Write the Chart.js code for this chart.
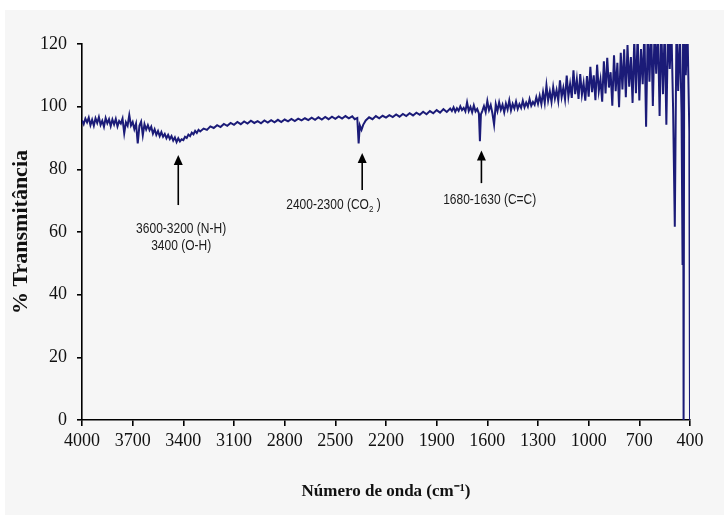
<!DOCTYPE html>
<html>
<head>
  <meta charset="utf-8">
  <title>Espectro FTIR</title>
  <script src="https://cdn.jsdelivr.net/npm/chart.js"></script>
  <style>
    body {
      margin: 0;
      background: #fff;
    }
    canvas {
      display: block;
    }
  </style>
</head>
<body>
  <canvas id="ftirChart" width="724" height="515"></canvas>

  <script>
    // wavenumber (cm-1), one row per 10 points
    var wavenumbers = [
      4000, 3990, 3980, 3970, 3960, 3950, 3940, 3930, 3920, 3910,
      3900, 3890, 3880, 3870, 3860, 3850, 3840, 3830, 3820, 3810,
      3800, 3790, 3780, 3770, 3760, 3750, 3740, 3730, 3720, 3710,
      3700, 3690, 3680, 3670, 3660, 3650, 3640, 3630, 3620, 3610,
      3600, 3590, 3580, 3570, 3560, 3550, 3540, 3530, 3520, 3510,
      3500, 3490, 3480, 3470, 3460, 3450, 3440, 3430, 3420, 3410,
      3400, 3390, 3380, 3370, 3360, 3350, 3340, 3330, 3320, 3310,
      3300, 3280, 3260, 3240, 3220,
      3200, 3180, 3160, 3140, 3120, 3100, 3080, 3060, 3040, 3020,
      3000, 2980, 2960, 2940, 2920, 2900, 2880, 2860, 2840, 2820,
      2800, 2780, 2760, 2740, 2720, 2700, 2680, 2660, 2640, 2620,
      2600, 2580, 2560, 2540, 2520, 2500, 2480, 2460, 2440, 2420,
      2400, 2385, 2370, 2362, 2355, 2345, 2335, 2320, 2300, 2280,
      2260, 2240, 2220, 2200, 2180, 2160, 2140, 2120, 2100, 2080,
      2060, 2040, 2020, 2000, 1980, 1960, 1940, 1920, 1900, 1880,
      1860, 1840, 1820,
      1810, 1800, 1790, 1780, 1770, 1760, 1750, 1740, 1730, 1720,
      1710, 1700, 1690, 1680, 1670, 1660, 1650, 1644, 1638, 1630,
      1620, 1610, 1600, 1590, 1580, 1570, 1560, 1550, 1540, 1530,
      1520, 1510, 1500, 1490, 1480, 1470, 1460, 1450, 1440, 1430,
      1420, 1410, 1400, 1390, 1380, 1370, 1360, 1350, 1340, 1330,
      1320, 1310, 1300,
      1290, 1280, 1270, 1260, 1250, 1240, 1230, 1220, 1210, 1200,
      1190, 1180, 1170, 1160, 1150, 1140, 1130, 1120, 1110, 1100,
      1090, 1080, 1070, 1060, 1050, 1040, 1030, 1020, 1010, 1000,
      990, 980, 970, 960, 950, 940, 930, 920, 910, 900,
      890, 880, 870, 860, 850, 840, 830, 820, 810, 800,
      790, 780, 770, 760, 750, 740, 730, 720, 710, 700,
      690, 680, 670, 660, 650, 640, 630, 620, 610, 600,
      590, 580, 570, 560, 550, 540, 530, 520, 510, 500,
      490, 480, 470, 460, 450,
      444, 441, 438, 434, 425, 415, 404, 400
    ];

    // % transmittance, same rows as above
    var transmittance = [
      95.6, 94.4, 96.2, 95.0, 96.5, 94.1, 95.8, 93.9, 96.3, 94.8,
      96.7, 94.2, 95.5, 93.6, 96.4, 94.7, 96.0, 93.8, 95.9, 94.3,
      96.1, 93.7, 95.4, 94.6, 96.2, 91.5, 95.0, 93.9, 97.3, 94.0,
      95.1, 92.8, 94.6, 88.3, 93.9, 95.2, 90.9, 94.4, 92.7, 94.1,
      92.5, 93.6, 91.4, 92.8, 91.0, 92.2, 90.6, 91.9, 90.4, 91.3,
      89.9, 91.0, 89.7, 90.6, 89.2, 90.2, 88.7, 89.9, 88.9, 89.6,
      89.3, 90.4, 90.0, 91.1, 90.6, 91.7, 91.2, 92.3, 91.6, 92.6,
      92.1, 93.0, 92.6, 93.7, 93.2,
      94.1, 93.5, 94.5, 93.9, 94.8, 94.2, 95.1, 94.4, 95.3, 94.6,
      95.5, 94.8, 95.4, 94.7, 95.6, 94.9, 95.7, 95.0, 95.8, 95.1,
      95.9, 95.3, 96.1, 95.4, 96.2, 95.6, 96.3, 95.7, 96.5, 95.8,
      96.6, 95.9, 96.7, 96.0, 96.8, 96.1, 96.9, 96.2, 97.0, 96.3,
      96.9, 96.0, 96.4, 88.3, 94.0, 92.6, 94.2, 95.6, 96.6, 96.0,
      97.0, 96.3, 97.1, 96.5, 97.3, 96.7, 97.5, 96.8, 97.7, 97.0,
      97.9, 97.2, 98.1, 97.4, 98.4, 97.6, 98.6, 97.9, 98.9, 98.1,
      99.2, 98.3, 99.4,
      98.6, 99.8, 98.4, 99.5, 98.7, 100.1, 98.9, 99.6, 98.5, 101.4,
      98.6, 99.9, 98.2, 100.4, 98.5, 99.3, 97.8, 89.0, 97.5, 98.6,
      100.2, 98.3, 101.8, 98.9, 100.5, 97.9, 94.3, 100.8, 98.6, 101.4,
      99.0, 100.6, 98.2, 101.0, 99.1, 102.0, 98.8, 100.9, 99.4, 101.6,
      99.3, 100.8, 99.6, 101.9, 99.8, 101.3, 100.0, 102.4, 100.3, 101.5,
      100.6, 103.0, 100.9,
      103.5, 100.8, 104.6, 101.2, 106.8, 102.0, 104.9, 101.5, 106.2, 102.6,
      105.3, 101.9, 108.4, 103.1, 106.0, 102.4, 109.9, 103.3, 107.2, 102.8,
      111.6, 104.0, 108.7, 102.5, 110.4, 103.8, 107.5, 101.9, 109.8, 103.2,
      112.7, 104.6, 110.0, 102.1, 113.4, 105.0, 108.6, 101.6, 114.5, 104.2,
      115.6, 106.1, 111.0, 100.3, 116.4, 104.9, 114.0, 99.8, 117.2, 105.5,
      118.3, 103.0, 119.7, 106.4, 115.8, 101.2, 121.5, 104.3, 123.0, 102.0,
      118.4, 107.2, 124.5, 93.6, 125.0, 108.0, 126.0, 100.2, 124.0, 110.5,
      125.5, 97.0, 126.0, 104.0, 125.0, 94.2, 126.0, 112.0, 125.0, 99.0,
      61.7, 126.0, 105.0, 124.0, 98.0,
      49.5, 126.0, 0, 126.0, 110.0, 125.0, 92.0, 0
    ];

    var xTicks = [4000, 3700, 3400, 3100, 2800, 2500, 2200, 1900, 1600, 1300, 1000, 700, 400];
    var yTicks = [0, 20, 40, 60, 80, 100, 120];

    // band assignments: arrow at wn from tail to head (% T), text centred at (textWn, textT)
    var bands = [
      { wn: 3430, tail: 68.6, head: 84.6, textWn: 3413, textT: [61.0, 55.6],
        lines: [["3600-3200 (N-H)"], ["3400 (O-H)"]] },
      { wn: 2341, tail: 73.4, head: 85.2, textWn: 2511, textT: [68.6],
        lines: [["2400-2300 (CO", "2", " )"]] },
      { wn: 1635, tail: 75.6, head: 86.0, textWn: 1586, textT: [70.2],
        lines: [["1680-1630 (C=C)"]] }
    ];

    var serif = "'Liberation Serif', 'Times New Roman', serif";
    var sans = "'Liberation Sans', Arial, sans-serif";

    var panelPlugin = {
      id: "panel",
      beforeDraw: function(chart) {
        var ctx = chart.ctx;
        ctx.save();
        ctx.fillStyle = "#ffffff";
        ctx.fillRect(0, 0, chart.width, chart.height);
        ctx.fillStyle = "#f6f6f6";
        ctx.fillRect(5, 10, chart.width - 5, chart.height - 10);
        ctx.restore();
      }
    };

    var bandPlugin = {
      id: "bands",
      afterDatasetsDraw: function(chart) {
        var ctx = chart.ctx;
        var xs = chart.scales.x;
        var ys = chart.scales.y;
        ctx.save();
        bands.forEach(function(b) {
          var x = xs.getPixelForValue(b.wn);
          var yTail = ys.getPixelForValue(b.tail);
          var yHead = ys.getPixelForValue(b.head);

          ctx.strokeStyle = "#000";
          ctx.fillStyle = "#000";
          ctx.lineWidth = 1.6;
          ctx.beginPath();
          ctx.moveTo(x, yTail);
          ctx.lineTo(x, yHead + 8);
          ctx.stroke();
          ctx.beginPath();
          ctx.moveTo(x, yHead);
          ctx.lineTo(x - 4.5, yHead + 10);
          ctx.lineTo(x + 4.5, yHead + 10);
          ctx.closePath();
          ctx.fill();

          var cx = xs.getPixelForValue(b.textWn);
          ctx.fillStyle = "#1a1a1a";
          ctx.textBaseline = "middle";
          ctx.textAlign = "left";
          b.lines.forEach(function(parts, i) {
            var cy = ys.getPixelForValue(b.textT[i]);
            var widths = parts.map(function(p, j) {
              ctx.font = (j === 1 ? "8px " : "12px ") + sans;
              return ctx.measureText(p).width;
            });
            var total = widths.reduce(function(a, w) { return a + w; }, 0);
            var px = cx - total / 2;
            parts.forEach(function(p, j) {
              ctx.save();
              ctx.translate(px, cy + (j === 1 ? 4 : 0));
              ctx.scale(1, 1.2);
              ctx.font = (j === 1 ? "8px " : "12px ") + sans;
              ctx.fillText(p, 0, 0);
              ctx.restore();
              px += widths[j];
            });
          });
        });
        ctx.restore();
      }
    };

    var points = wavenumbers.map(function(wn, i) {
      return { x: wn, y: transmittance[i] };
    });

    var ctx = document.getElementById("ftirChart").getContext("2d");

    new Chart(ctx, {
      type: "line",
      data: {
        datasets: [{
          label: "% Transmitância",
          data: points,
          borderColor: "#1b1b78",
          borderWidth: 2,
          pointRadius: 0,
          tension: 0,
          clip: 0
        }]
      },
      options: {
        responsive: false,
        animation: false,
        devicePixelRatio: 1,
        layout: {
          padding: { top: 44, right: 34, bottom: 0, left: 0 }
        },
        plugins: {
          legend: { display: false },
          tooltip: { enabled: false }
        },
        scales: {
          x: {
            type: "linear",
            reverse: true,
            min: 400,
            max: 4000,
            afterBuildTicks: function(scale) {
              scale.ticks = xTicks.map(function(v) { return { value: v }; });
            },
            afterFit: function(scale) {
              scale.height = 95;
            },
            border: { display: true, color: "#000", width: 1.6 },
            grid: {
              display: true,
              drawOnChartArea: false,
              drawTicks: true,
              tickLength: 6,
              color: "#000",
              lineWidth: 1.6
            },
            ticks: {
              color: "#111",
              padding: 4,
              maxRotation: 0,
              autoSkip: false,
              callback: function(value) { return String(value); },
              font: { family: serif, size: 18 }
            },
            title: {
              display: true,
              text: "Número de onda (cm⁻¹)",
              color: "#111",
              font: { family: serif, size: 17, weight: "bold" },
              padding: { top: 4, bottom: 13 }
            }
          },
          y: {
            min: 0,
            max: 120,
            afterBuildTicks: function(scale) {
              scale.ticks = yTicks.map(function(v) { return { value: v }; });
            },
            afterFit: function(scale) {
              scale.width = 82;
            },
            border: { display: true, color: "#000", width: 1.6 },
            grid: {
              display: true,
              drawOnChartArea: false,
              drawTicks: true,
              tickLength: 5,
              color: "#000",
              lineWidth: 1.6
            },
            ticks: {
              color: "#111",
              padding: 10,
              callback: function(value) { return String(value); },
              font: { family: serif, size: 18 }
            },
            title: {
              display: true,
              text: "% Transmitância",
              color: "#111",
              font: { family: serif, size: 22, weight: "bold" },
              padding: { top: 8, bottom: 0 }
            }
          }
        }
      },
      plugins: [panelPlugin, bandPlugin]
    });
  </script>
</body>
</html>
